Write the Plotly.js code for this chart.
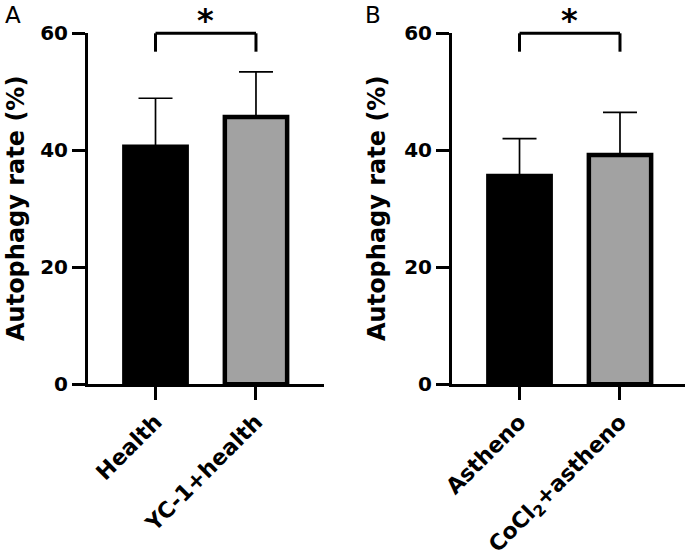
<!DOCTYPE html>
<html>
<head>
<meta charset="utf-8">
<script src="https://cdn.plot.ly/plotly-3.0.1.min.js"></script>
<style>html,body{margin:0;padding:0;background:#fff;}#chart{width:685px;height:556px;}</style>
</head>
<body>
<div id="chart"></div>
<script>
// ---- data ----
const categoriesA = ['Health', 'YC-1+health'];
const tickLabelsA = ['Health', 'YC-1+health'];
const meansA = [40.6, 45.7];
const sdA = [8.3, 7.7];

const categoriesB = ['Astheno', 'CoCl2+astheno'];
const tickLabelsB = ['Astheno', 'CoCl<sub>2</sub>+astheno'];
const meansB = [35.6, 39.2];
const sdB = [6.4, 7.3];

const yTicks = [0, 20, 40, 60];
const yTitle = 'Autophagy rate (%)';
const panelLetters = ['A', 'B'];
const sigLabels = ['*', '*'];

const barColors = ['#000000', '#a2a2a2'];

// ---- layout helpers ----
const W = 685, H = 556;
const py = p => (H - p) / H;       // pixel y -> paper
const px = p => p / W;             // pixel x -> paper

const FONT = 'DejaVu Sans, Verdana, sans-serif';
const tickFont = {family: FONT, size: 20, color: '#000', weight: 'bold'};
const xTickFont = {family: FONT, size: 22, color: '#000', weight: 'bold'};

function barTrace(cats, means, sd, xa, ya) {
  return {
    type: 'bar', x: cats, y: means, xaxis: xa, yaxis: ya,
    width: 0.62,
    marker: {color: barColors, line: {color: '#000', width: 4.5}},
    error_y: {type: 'data', symmetric: false, array: sd, arrayminus: sd.map(() => 0),
              color: '#000', thickness: 1.7, width: 17},
    hoverinfo: 'skip', showlegend: false
  };
}

const yDomain = [py(384.3), py(33.3)];

function xAxis(domain, range, cats, labels) {
  return {
    domain: domain, range: range, type: 'category',
    tickmode: 'array', tickvals: cats, ticktext: labels,
    tickangle: -45, ticks: 'outside', ticklen: 13, tickwidth: 3, tickcolor: '#000',
    showline: true, linewidth: 3, linecolor: '#000', showgrid: false, zeroline: false,
    tickfont: xTickFont, fixedrange: true
  };
}
function yAxis(anchor) {
  return {
    domain: yDomain, range: [0, 60], anchor: anchor,
    tickmode: 'array', tickvals: yTicks, ticks: 'outside', ticklen: 13, tickwidth: 3, tickcolor: '#000',
    showline: true, linewidth: 3, linecolor: '#000', showgrid: false, zeroline: false,
    tickfont: tickFont, fixedrange: true
  };
}

function bracket(xref, yref, c0, c1) {
  const common = {type: 'line', xref: xref, yref: yref + ' domain', line: {color: '#000', width: 3}};
  const top = 1, bot = 0.9476;
  return [
    Object.assign({x0: c0, x1: c0, y0: bot, y1: top}, common),
    Object.assign({x0: c0, x1: c1, y0: top, y1: top}, common),
    Object.assign({x0: c1, x1: c1, y0: top, y1: bot}, common)
  ];
}

const data = [
  barTrace(categoriesA, meansA, sdA, 'x', 'y'),
  barTrace(categoriesB, meansB, sdB, 'x2', 'y2')
];

const titleFont = {family: FONT, size: 24, color: '#000', weight: 'bold'};
const letterFont = {family: FONT, size: 23, color: '#000'};
const starFont = {family: FONT, size: 32, color: '#000', weight: 'bold'};

const layout = {
  width: W, height: H, autosize: false,
  margin: {l: 0, r: 0, t: 0, b: 0},
  paper_bgcolor: '#fff', plot_bgcolor: '#fff',
  bargap: 0.3,
  xaxis: xAxis([px(88), px(324)], [-0.672, 1.677], categoriesA, tickLabelsA),
  yaxis: yAxis('x'),
  xaxis2: xAxis([px(452), 1], [-0.672, 1.647], categoriesB, tickLabelsB),
  yaxis2: yAxis('x2'),
  shapes: [].concat(bracket('x', 'y', categoriesA[0], categoriesA[1]),
                    bracket('x2', 'y2', categoriesB[0], categoriesB[1])),
  annotations: [
    {text: panelLetters[0], xref: 'paper', yref: 'paper', x: px(13), y: py(15), showarrow: false,
     xanchor: 'center', yanchor: 'middle', font: letterFont},
    {text: panelLetters[1], xref: 'paper', yref: 'paper', x: px(373), y: py(15), showarrow: false,
     xanchor: 'center', yanchor: 'middle', font: letterFont},
    {text: yTitle, xref: 'paper', yref: 'paper', x: px(16), y: py(209), textangle: -90, showarrow: false,
     xanchor: 'center', yanchor: 'middle', font: titleFont},
    {text: yTitle, xref: 'paper', yref: 'paper', x: px(377), y: py(209), textangle: -90, showarrow: false,
     xanchor: 'center', yanchor: 'middle', font: titleFont},
    {text: sigLabels[0], xref: 'x', yref: 'paper', x: 0.5, y: 1, showarrow: false,
     xanchor: 'center', yanchor: 'top', borderpad: 0, font: starFont},
    {text: sigLabels[1], xref: 'x2', yref: 'paper', x: 0.5, y: 1, showarrow: false,
     xanchor: 'center', yanchor: 'top', borderpad: 0, font: starFont}
  ]
};

Plotly.newPlot('chart', data, layout, {displayModeBar: false, staticPlot: true});
</script>
</body>
</html>
